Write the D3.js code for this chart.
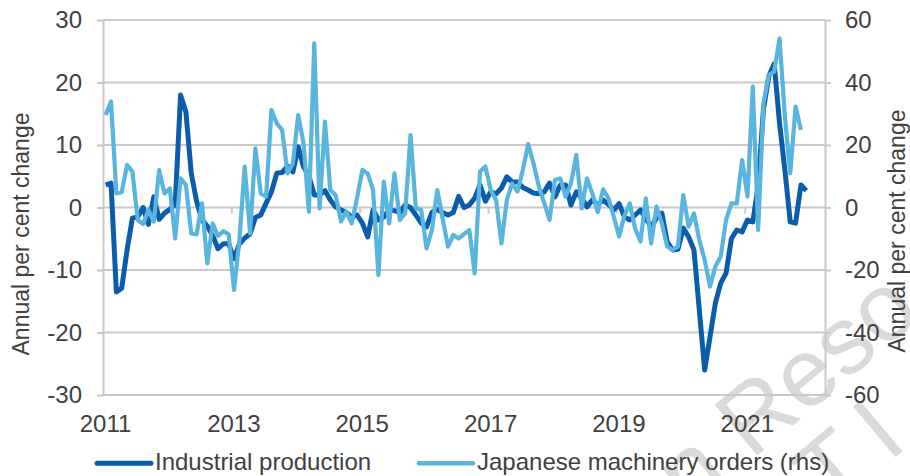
<!DOCTYPE html>
<html><head><meta charset="utf-8">
<script src="https://cdn.jsdelivr.net/npm/d3@7"></script>
<style>
html,body{margin:0;padding:0;background:#fff;}
svg{display:block;font-family:"Liberation Sans",Arial,sans-serif;}
</style></head><body>
<svg id="chart" width="910" height="476"></svg>
<script>
// Monthly data, first observation January 2011
const startYear = 2011;
const industrialProduction = [
  3.6, 3.9, -13.5, -12.9, -6.8, -1.7, -1.5, 0, -2.7, 1.7, -1.9, -0.9,
  -0.3, 0.5, 18.0, 15.3, 5.5, 1.0, -2.0, -3.0, -4.5, -6.6, -5.8, -5.8,
  -8.2, -5.8, -4.9, -4.2, -1.6, -1.2, 0.7, 2.5, 5.5, 5.6, 6.6, 5.7,
  9.7, 6.5, 5.0, 2.0, 2.0, 2.7, 1.2, 0.1, -0.4, -0.8, -1.5, -1.2,
  -2.5, -4.7, -0.4, -2.0, -1.5, -0.4, -0.5, -0.8, 0.4, 0.0, -1.2, -2.5,
  -3.1, -0.8, -0.3, -0.8, -1.2, -0.8, 1.8, 0.0, 0.4, 1.5, 3.6, 1.0,
  2.5, 2.2, 3.1, 4.9, 4.1, 4.1, 3.2, 2.8, 2.3, 2.2, 2.5, 3.9,
  1.7, 3.6, 3.6, 0.4, 2.5, 1.5, 0.1, 1.2, 0.4, 1.2, 0.5, -0.4,
  0.6, -1.5, -2.0, -1.2, -0.4, -1.8, -3.1, -1.7, -0.9, -5.5, -6.8, -6.7,
  -3.3, -4.7, -6.8, -16.4, -26.0, -20.7, -15.3, -12.1, -10.5, -5.0, -3.6, -3.9,
  -2.0, -2.3, 3.4, 15.8, 21.0, 23.0, 13.5, 6.0, -2.3, -2.5, 3.6, 2.7
];
const machineryOrders = [
  29.6, 33.9, 4.5, 4.9, 13.6, 11.5, -4.0, -5.3, -0.8, -4.5, 12.0, 4.5,
  6.1, -9.9, 9.3, 7.2, -8.3, -8.6, 1.3, -17.9, -5.1, -9.1, -7.6, -8.6,
  -26.4, -10.4, 13.1, -8.3, 18.9, 4.5, 3.5, 31.2, 26.9, 24.8, 10.9, 14.1,
  29.6, 20.5, -1.3, 52.5, -0.3, 27.5, 5.6, 4.0, -4.5, -1.3, -5.1, 3.0,
  12.0, 10.9, 5.6, -21.6, 8.3, -5.1, 10.9, -4.0, -1.9, 23.2, -0.3, -0.8,
  -13.1, -7.2, 5.6, -3.5, -12.5, -8.8, -9.9, -8.5, -7.2, -21.1, 11.5, 13.1,
  5.6, 2.4, -11.5, 2.4, 7.7, 5.1, 12.0, 20.3, 14.1, 6.7, 1.5, -4.0,
  8.8, 9.3, 3.5, 7.7, 16.8, -0.3, 9.3, 4.5, -1.5, 5.8, 3.0, -2.9,
  -9.3, -2.6, 1.3, -6.7, -10.9, 2.9, -11.5, 0.3, -5.1, -12.5, -13.6, -12.5,
  4.0, -6.1, -1.9, -10.4, -16.8, -25.3, -18.9, -15.7, -4.0, 1.3, 1.3, 15.2,
  3.5, 38.7, -7.2, 33.3, 42.4, 43.5, 54.1, 29.1, 10.9, 32.3, 24.8
];
const yearTicks = [2011, 2013, 2015, 2017, 2019, 2021];
const leftTicks = [-30, -20, -10, 0, 10, 20, 30];
const rightTicks = [-60, -40, -20, 0, 20, 40, 60];
const seriesNames = ["Industrial production", "Japanese machinery orders (rhs)"];
const axisTitle = "Annual per cent change";
const watermarkLines = ["n Reso", "TI"];

const darkBlue = "#0B5CAB", lightBlue = "#5AB4E0";
const gridColor = "#c9c9c9", textColor = "#404040";
const fontSize = 24;

const svg = d3.select("#chart");
const x = d3.scaleLinear().domain([2011, 2022.25]).range([103, 825]);
const yL = d3.scaleLinear().domain([-30, 30]).range([395, 20]);
const yR = d3.scaleLinear().domain([-60, 60]).range([395, 20]);
const dateOf = i => startYear + (i + 0.5) / 12;
const plainNum = d => String(d); // hyphen-minus as in the original

// watermark (behind everything)
const wm = svg.append("g").attr("fill", "#dadada").attr("font-size", 96);
wm.append("text").attr("transform", "translate(690,512) rotate(-40)").text(watermarkLines[0]);
wm.append("text").attr("transform", "translate(830,512) rotate(-40)")
  .attr("letter-spacing", 18).text(watermarkLines[1]);

// gridlines
svg.append("g").selectAll("line").data(leftTicks).join("line")
  .attr("x1", 103).attr("x2", 825)
  .attr("y1", d => yL(d)).attr("y2", d => yL(d))
  .attr("stroke", gridColor).attr("stroke-width", 2);

function styleAxis(g) {
  g.selectAll("path.domain").attr("stroke", gridColor).attr("stroke-width", 2);
  g.selectAll(".tick line").attr("stroke", gridColor).attr("stroke-width", 2);
  g.attr("font-size", fontSize).attr("font-family", '"Liberation Sans", Arial, sans-serif');
  g.selectAll("text").attr("fill", textColor);
}

// left axis
svg.append("g").attr("transform", "translate(103,0)")
  .call(d3.axisLeft(yL).tickValues(leftTicks).tickFormat(plainNum).tickSize(6).tickSizeOuter(0).tickPadding(15))
  .call(styleAxis);

// right axis
svg.append("g").attr("transform", "translate(825,0)")
  .call(d3.axisRight(yR).tickValues(rightTicks).tickFormat(plainNum).tickSize(6).tickSizeOuter(0).tickPadding(14))
  .call(styleAxis);

// x tick marks at zero line
svg.append("g").attr("transform", `translate(0,${yL(0)})`)
  .call(d3.axisBottom(x).tickValues(yearTicks.slice(1)).tickSize(6).tickFormat(""))
  .call(g => g.select("path.domain").remove())
  .call(styleAxis);

// x labels
svg.append("g").attr("transform", "translate(2,395)")
  .call(d3.axisBottom(x).tickValues(yearTicks).tickSize(0).tickPadding(20).tickFormat(plainNum))
  .call(g => g.select("path.domain").remove())
  .call(styleAxis);

// lines
const lineL = d3.line().x((d, i) => x(dateOf(i))).y(d => yL(d));
const lineR = d3.line().x((d, i) => x(dateOf(i))).y(d => yR(d));
svg.append("path").datum(industrialProduction).attr("d", lineL)
  .attr("fill", "none").attr("stroke", darkBlue).attr("stroke-width", 5)
  .attr("stroke-linejoin", "round");
svg.append("path").datum(machineryOrders).attr("d", lineR)
  .attr("fill", "none").attr("stroke", lightBlue).attr("stroke-width", 4.2)
  .attr("stroke-linejoin", "round");

// axis titles
svg.append("text").attr("transform", "translate(29,234) rotate(-90)")
  .attr("text-anchor", "middle").attr("font-size", 23).attr("fill", textColor).text(axisTitle);
svg.append("text").attr("transform", "translate(905,231) rotate(-90)")
  .attr("text-anchor", "middle").attr("font-size", 23).attr("fill", textColor).text(axisTitle);

// legend
const legend = [
  {name: seriesNames[0], color: darkBlue, w: 5, x1: 97, x2: 151, tx: 155},
  {name: seriesNames[1], color: lightBlue, w: 4.6, x1: 419, x2: 473, tx: 477}
];
const lg = svg.append("g");
legend.forEach(l => {
  lg.append("line").attr("x1", l.x1).attr("x2", l.x2).attr("y1", 463.3).attr("y2", 463.3)
    .attr("stroke", l.color).attr("stroke-width", l.w).attr("stroke-linecap", "round");
  lg.append("text").attr("x", l.tx).attr("y", 469.5).attr("font-size", fontSize)
    .attr("fill", textColor).text(l.name);
});
</script>
</body></html>
